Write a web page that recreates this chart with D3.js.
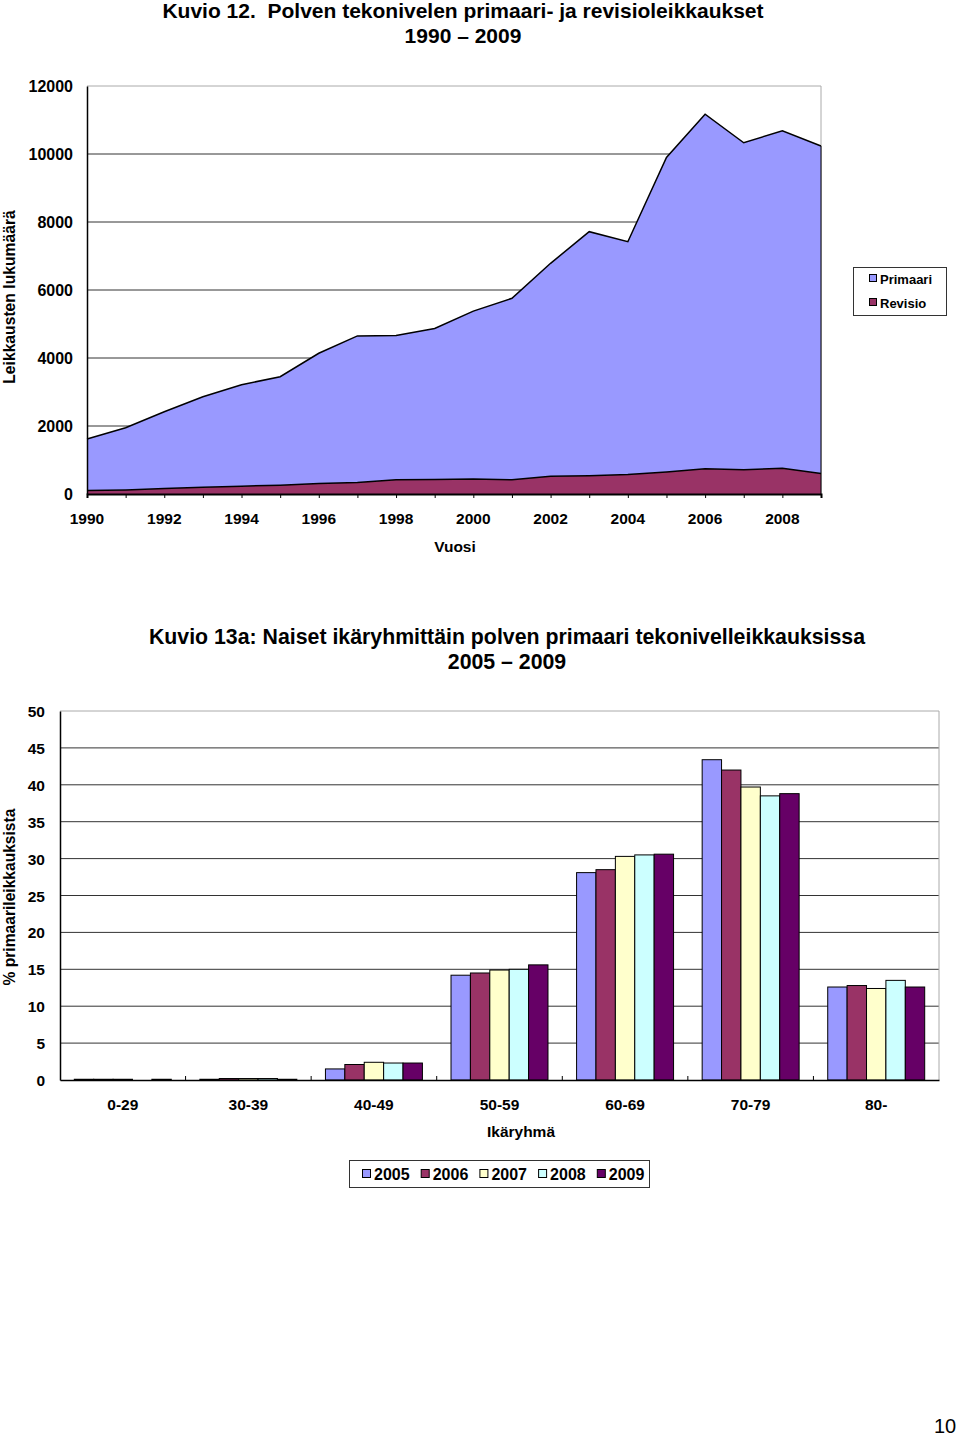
<!DOCTYPE html>
<html><head><meta charset="utf-8">
<script src="https://cdn.jsdelivr.net/npm/d3@7"></script>
<style>
body{margin:0;background:#fff;}
svg{display:block;font-family:"Liberation Sans",Arial,sans-serif;}
</style></head>
<body>
<svg id="c" width="960" height="1438"></svg>
<script>
// ---- Data: chart 1 (Kuvio 12) ----
const years = [1990,1991,1992,1993,1994,1995,1996,1997,1998,1999,2000,2001,2002,2003,2004,2005,2006,2007,2008,2009];
const primaari = [1520,1830,2260,2660,2985,3190,3830,4310,4240,4440,4940,5335,6265,7175,6850,9250,10430,9620,9925,9635];
const revisio  = [100,120,160,200,230,260,310,340,420,430,440,420,520,540,570,650,740,710,760,600];
const yTicks1 = [0,2000,4000,6000,8000,10000,12000];
const xTickYears = [1990,1992,1994,1996,1998,2000,2002,2004,2006,2008];
const series1 = ["Primaari","Revisio"];

// ---- Data: chart 2 (Kuvio 13a) ----
const ageGroups = ["0-29","30-39","40-49","50-59","60-69","70-79","80-"];
const barYears = ["2005","2006","2007","2008","2009"];
const v2005 = [0.1,0.1,1.5,14.2,28.1,43.4,12.6];
const v2006 = [0.1,0.2,2.1,14.5,28.5,42.0,12.8];
const v2007 = [0.1,0.2,2.4,14.9,30.3,39.7,12.4];
const v2008 = [0.0,0.2,2.3,15.0,30.5,38.5,13.5];
const v2009 = [0.1,0.1,2.3,15.6,30.6,38.8,12.6];
const yTicks2 = [0,5,10,15,20,25,30,35,40,45,50];

const svg = d3.select("#c");
const F = "Liberation Sans, Arial, sans-serif";

// ================= Chart 1 =================
const x1 = d3.scaleLinear().domain([1990,2009]).range([87,821]);
const y1 = d3.scaleLinear().domain([0,12000]).range([494,86]);
const g1 = svg.append("g");

// titles
g1.append("text").attr("x",463).attr("y",18).attr("text-anchor","middle").style("white-space","pre")
  .attr("font-size",21).attr("font-weight","bold").attr("font-family",F).text("Kuvio 12.  Polven tekonivelen primaari- ja revisioleikkaukset");
g1.append("text").attr("x",463).attr("y",43).attr("text-anchor","middle")
  .attr("font-size",21).attr("font-weight","bold").attr("font-family",F).text("1990 \u2013 2009");

// gridlines
g1.append("g").selectAll("line").data(yTicks1.filter(d=>d>0 && d<12000)).join("line")
  .attr("x1",87).attr("x2",821).attr("y1",d=>y1(d)).attr("y2",d=>y1(d))
  .attr("stroke","#333").attr("stroke-width",1);
// border top/right
g1.append("path").attr("d",`M87,${y1(12000)}H821V${y1(0)}`).attr("fill","none").attr("stroke","#aaa").attr("stroke-width",1);

// stacked areas
const rows = years.map((yr,i)=>({year:yr, Primaari:primaari[i], Revisio:revisio[i]}));
const stack = d3.stack().keys(["Revisio","Primaari"])(rows);
const colors1 = {Primaari:"#9999FF", Revisio:"#993366"};
const area = d3.area().x(d=>x1(d.data.year)).y0(d=>y1(d[0])).y1(d=>y1(d[1]));
const line = d3.line().x(d=>x1(d.data.year)).y(d=>y1(d[1]));
g1.selectAll("path.area").data(stack).join("path").attr("class","area")
  .attr("d",area).attr("fill",d=>colors1[d.key]);
g1.selectAll("path.top").data(stack).join("path").attr("class","top")
  .attr("d",line).attr("fill","none").attr("stroke","#000").attr("stroke-width",1.5);
g1.append("line").attr("x1",821).attr("x2",821).attr("y1",y1(0)).attr("y2",y1(primaari[19]+revisio[19])).attr("stroke","#000").attr("stroke-width",1);

// axes
const ax1 = d3.axisBottom(x1).tickValues(years).tickSize(4).tickFormat("");
const gx1 = g1.append("g").attr("transform",`translate(0,${y1(0)})`).call(ax1);
gx1.select(".domain").attr("stroke","#000").attr("stroke-width",2);
gx1.selectAll(".tick line").attr("stroke","#000");
const ay1 = d3.axisLeft(y1).tickValues(yTicks1).tickSize(0).tickFormat("");
const gy1 = g1.append("g").attr("transform","translate(87,0)").call(ay1);
gy1.select(".domain").attr("stroke","#000").attr("stroke-width",1.5);

g1.append("g").selectAll("text").data(yTicks1).join("text")
  .attr("x",73).attr("y",d=>y1(d)+6).attr("text-anchor","end")
  .attr("font-size",16).attr("font-weight","bold").attr("font-family",F).text(d=>d);
g1.append("g").selectAll("text").data(xTickYears).join("text")
  .attr("x",d=>x1(d)).attr("y",524).attr("text-anchor","middle")
  .attr("font-size",15.5).attr("font-weight","bold").attr("font-family",F).text(d=>d);
g1.append("text").attr("x",455).attr("y",552).attr("text-anchor","middle")
  .attr("font-size",15.5).attr("font-weight","bold").attr("font-family",F).text("Vuosi");
g1.append("text").attr("transform","translate(15,297) rotate(-90)").attr("text-anchor","middle")
  .attr("font-size",15.7).attr("font-weight","bold").attr("font-family",F).text("Leikkausten lukumäärä");

// legend 1
const lg1 = g1.append("g");
lg1.append("rect").attr("x",853.5).attr("y",267.5).attr("width",93).attr("height",48).attr("fill","#fff").attr("stroke","#333");
series1.forEach((s,i)=>{
  lg1.append("rect").attr("x",869.5).attr("y",274.5+i*24).attr("width",7).attr("height",7).attr("fill",colors1[s]).attr("stroke","#000");
  lg1.append("text").attr("x",880).attr("y",284+i*24).attr("font-size",13).attr("font-weight","bold").attr("font-family",F).text(s);
});

// ================= Chart 2 =================
const g2 = svg.append("g");
g2.append("text").attr("x",507).attr("y",644).attr("text-anchor","middle")
  .attr("font-size",21.3).attr("font-weight","bold").attr("font-family",F)
  .text("Kuvio 13a: Naiset ikäryhmittäin polven primaari tekonivelleikkauksissa");
g2.append("text").attr("x",507).attr("y",669).attr("text-anchor","middle")
  .attr("font-size",21.3).attr("font-weight","bold").attr("font-family",F).text("2005 \u2013 2009");

const x0 = d3.scaleBand().domain(ageGroups).range([60,939]).padding(0);
const xi = d3.scaleBand().domain(barYears).range([14.3, x0.bandwidth()-14.3]).padding(0);
const y2 = d3.scaleLinear().domain([0,50]).range([1080,711]);
const colors2 = {"2005":"#9999FF","2006":"#993366","2007":"#FFFFCC","2008":"#CCFFFF","2009":"#660066"};
const vals = {"2005":v2005,"2006":v2006,"2007":v2007,"2008":v2008,"2009":v2009};

g2.append("g").selectAll("line").data(yTicks2.filter(d=>d>0&&d<50)).join("line")
  .attr("x1",60).attr("x2",939).attr("y1",d=>y2(d)).attr("y2",d=>y2(d))
  .attr("stroke","#333").attr("stroke-width",1);
g2.append("path").attr("d",`M60,${y2(50)}H939V${y2(0)}`).attr("fill","none").attr("stroke","#aaa");

const grp = g2.selectAll("g.grp").data(ageGroups).join("g").attr("class","grp")
  .attr("transform",d=>`translate(${x0(d)},0)`);
grp.selectAll("rect").data((d,i)=>barYears.map(y=>({year:y,v:vals[y][i]}))).join("rect")
  .attr("x",d=>xi(d.year)).attr("width",xi.bandwidth())
  .attr("y",d=>y2(d.v)).attr("height",d=>y2(0)-y2(d.v))
  .attr("fill",d=>colors2[d.year]).attr("stroke","#000").attr("stroke-width",1);

const ax2 = d3.axisBottom(x0).tickSize(0).tickFormat("");
const gx2 = g2.append("g").attr("transform",`translate(0,${y2(0)})`).call(ax2);
gx2.select(".domain").attr("stroke","#000").attr("stroke-width",1.5);
g2.append("g").selectAll("line").data(ageGroups.slice(1)).join("line")
  .attr("x1",d=>x0(d)).attr("x2",d=>x0(d)).attr("y1",y2(0)).attr("y2",y2(0)-4).attr("stroke","#000");
const gy2 = g2.append("g").attr("transform","translate(60,0)").call(d3.axisLeft(y2).tickValues(yTicks2).tickSize(0).tickFormat(""));
gy2.select(".domain").attr("stroke","#000").attr("stroke-width",1.5);

g2.append("g").selectAll("text").data(yTicks2).join("text")
  .attr("x",45).attr("y",d=>y2(d)+6).attr("text-anchor","end")
  .attr("font-size",15.5).attr("font-weight","bold").attr("font-family",F).text(d=>d);
g2.append("g").selectAll("text").data(ageGroups).join("text")
  .attr("x",d=>x0(d)+x0.bandwidth()/2).attr("y",1110).attr("text-anchor","middle")
  .attr("font-size",15.5).attr("font-weight","bold").attr("font-family",F).text(d=>d);
g2.append("text").attr("x",521).attr("y",1137).attr("text-anchor","middle")
  .attr("font-size",15.5).attr("font-weight","bold").attr("font-family",F).text("Ikäryhmä");
g2.append("text").attr("transform","translate(15,897) rotate(-90)").attr("text-anchor","middle")
  .attr("font-size",15.6).attr("font-weight","bold").attr("font-family",F).text("% primaarileikkauksista");

// legend 2
const lg2 = g2.append("g");
lg2.append("rect").attr("x",349.5).attr("y",1160.5).attr("width",300).attr("height",27).attr("fill","#fff").attr("stroke","#333");
barYears.forEach((y,i)=>{
  lg2.append("rect").attr("x",362.5+i*58.7).attr("y",1169.5).attr("width",8).attr("height",8).attr("fill",colors2[y]).attr("stroke","#000");
  lg2.append("text").attr("x",374+i*58.7).attr("y",1180).attr("font-size",16).attr("font-weight","bold").attr("font-family",F).text(y);
});

// page number
svg.append("text").attr("x",945).attr("y",1433).attr("text-anchor","middle")
  .attr("font-size",20).attr("font-family",F).text("10");
</script>
</body></html>
